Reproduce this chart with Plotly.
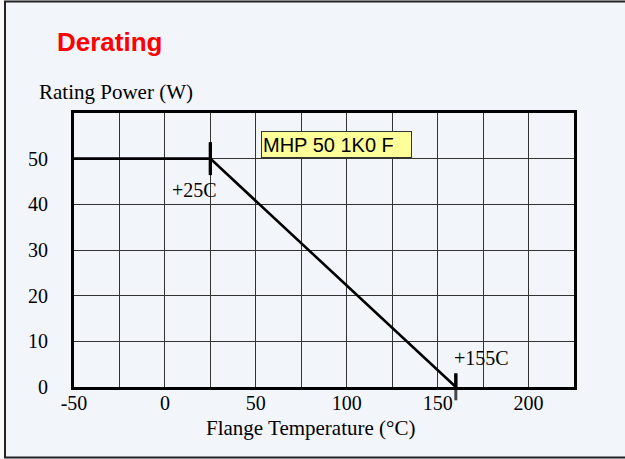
import plotly.graph_objects as go

# Data
temps = [-50, 25, 160]
power = [50, 50, 0]
knee_temps = [25, 160]
knee_power = [50, 0]
knee_tick_half = [3.6, 3.0]
knee_labels = ["+25C", "+155C"]
x_ticks = [-50, 0, 50, 100, 150, 200]
y_ticks = [0, 10, 20, 30, 40, 50]
series_name = "MHP 50 1K0 F"

SERIF = "Liberation Serif, Times New Roman, serif"
SANS = "Liberation Sans, Arial, sans-serif"
BG = "#f2f5fa"

fig = go.Figure()
fig.add_trace(go.Scatter(
    x=temps, y=power, mode="lines",
    line=dict(color="black", width=2.6), showlegend=False, hoverinfo="skip"))
fig.add_trace(go.Scatter(
    x=knee_temps, y=knee_power, mode="markers",
    marker=dict(symbol="line-ns", size=[23, 19], color="black",
                line=dict(color="black", width=3)),
    error_y=dict(type="data", array=knee_tick_half, symmetric=True,
                 thickness=3.2, width=0, color="black"),
    cliponaxis=False, showlegend=False, hoverinfo="skip"))

L, R, T, B = 74, 51, 113, 72
W, H = 625, 459
pw, ph = W - L - R, H - T - B

def px(xp):
    return (xp - L) / pw

def py(yp):
    return (H - B - yp) / ph

annotations = [
    dict(text="<b>Derating</b>", x=px(55), y=py(42), xref="paper", yref="paper",
         xanchor="left", yanchor="middle", showarrow=False,
         font=dict(family=SANS, size=26, color="#ff0000")),
    dict(text="Rating Power (W)", x=px(37), y=py(92), xref="paper", yref="paper",
         xanchor="left", yanchor="middle", showarrow=False,
         font=dict(family=SERIF, size=21, color="black")),
    dict(text="Flange Temperature (°C)", x=px(310), y=py(428), xref="paper", yref="paper",
         xanchor="center", yanchor="middle", showarrow=False,
         font=dict(family=SERIF, size=21, color="black")),
    dict(text=series_name, x=53, y=56, xref="x", yref="y",
         xanchor="left", yanchor="top", showarrow=False, align="left",
         width=147, height=23, bgcolor="#ffff99", bordercolor="#333333",
         borderwidth=1, borderpad=1,
         font=dict(family=SANS, size=20, color="black")),
]
shifts = [(-16, -31), (26, 29)]
for t, p, lab, (dx, dy) in zip(knee_temps, knee_power, knee_labels, shifts):
    annotations.append(dict(text=lab, x=t, y=p, xref="x", yref="y",
                            xshift=dx, yshift=dy, showarrow=False,
                            xanchor="center", yanchor="middle",
                            font=dict(family=SERIF, size=20, color="black")))

shapes = [
    dict(type="rect", xref="paper", yref="paper", x0=px(-5), x1=px(4), y0=py(-5), y1=py(465),
         fillcolor="#fafafa", line=dict(width=0), layer="below"),
    dict(type="rect", xref="paper", yref="paper", x0=px(5), x1=px(640), y0=py(457.5), y1=py(1.5),
         line=dict(color="#222222", width=2), fillcolor="rgba(0,0,0,0)"),
]

fig.update_layout(
    width=W, height=H,
    margin=dict(l=L, r=R, t=T, b=B),
    paper_bgcolor=BG, plot_bgcolor=BG,
    annotations=annotations, shapes=shapes,
    showlegend=False,
    xaxis=dict(range=[-50, 225], tickvals=x_ticks, ticktext=[str(v) for v in x_ticks],
               showgrid=True, gridcolor="#333333", gridwidth=1,
               minor=dict(tickvals=[-25, 25, 75, 125, 175, 225], showgrid=True,
                          gridcolor="#333333", gridwidth=1),
               showline=True, linecolor="black", linewidth=3, mirror=True,
               zeroline=False, ticks="", ticklabelstandoff=-4,
               tickfont=dict(family=SERIF, size=20, color="black"),
               fixedrange=True),
    yaxis=dict(range=[0, 60], tickvals=y_ticks, ticktext=[str(v) for v in y_ticks],
               showgrid=True, gridcolor="#333333", gridwidth=1,
               minor=dict(tickvals=[60], showgrid=True, gridcolor="#333333"),
               showline=True, linecolor="black", linewidth=3, mirror=True,
               zeroline=False, ticks="", ticklabelstandoff=19,
               tickfont=dict(family=SERIF, size=20, color="black"),
               fixedrange=True),
)

fig.write_html("out.html", config=dict(displayModeBar=False),
               post_script="document.body.style.margin='0';document.body.style.overflow='hidden';")
